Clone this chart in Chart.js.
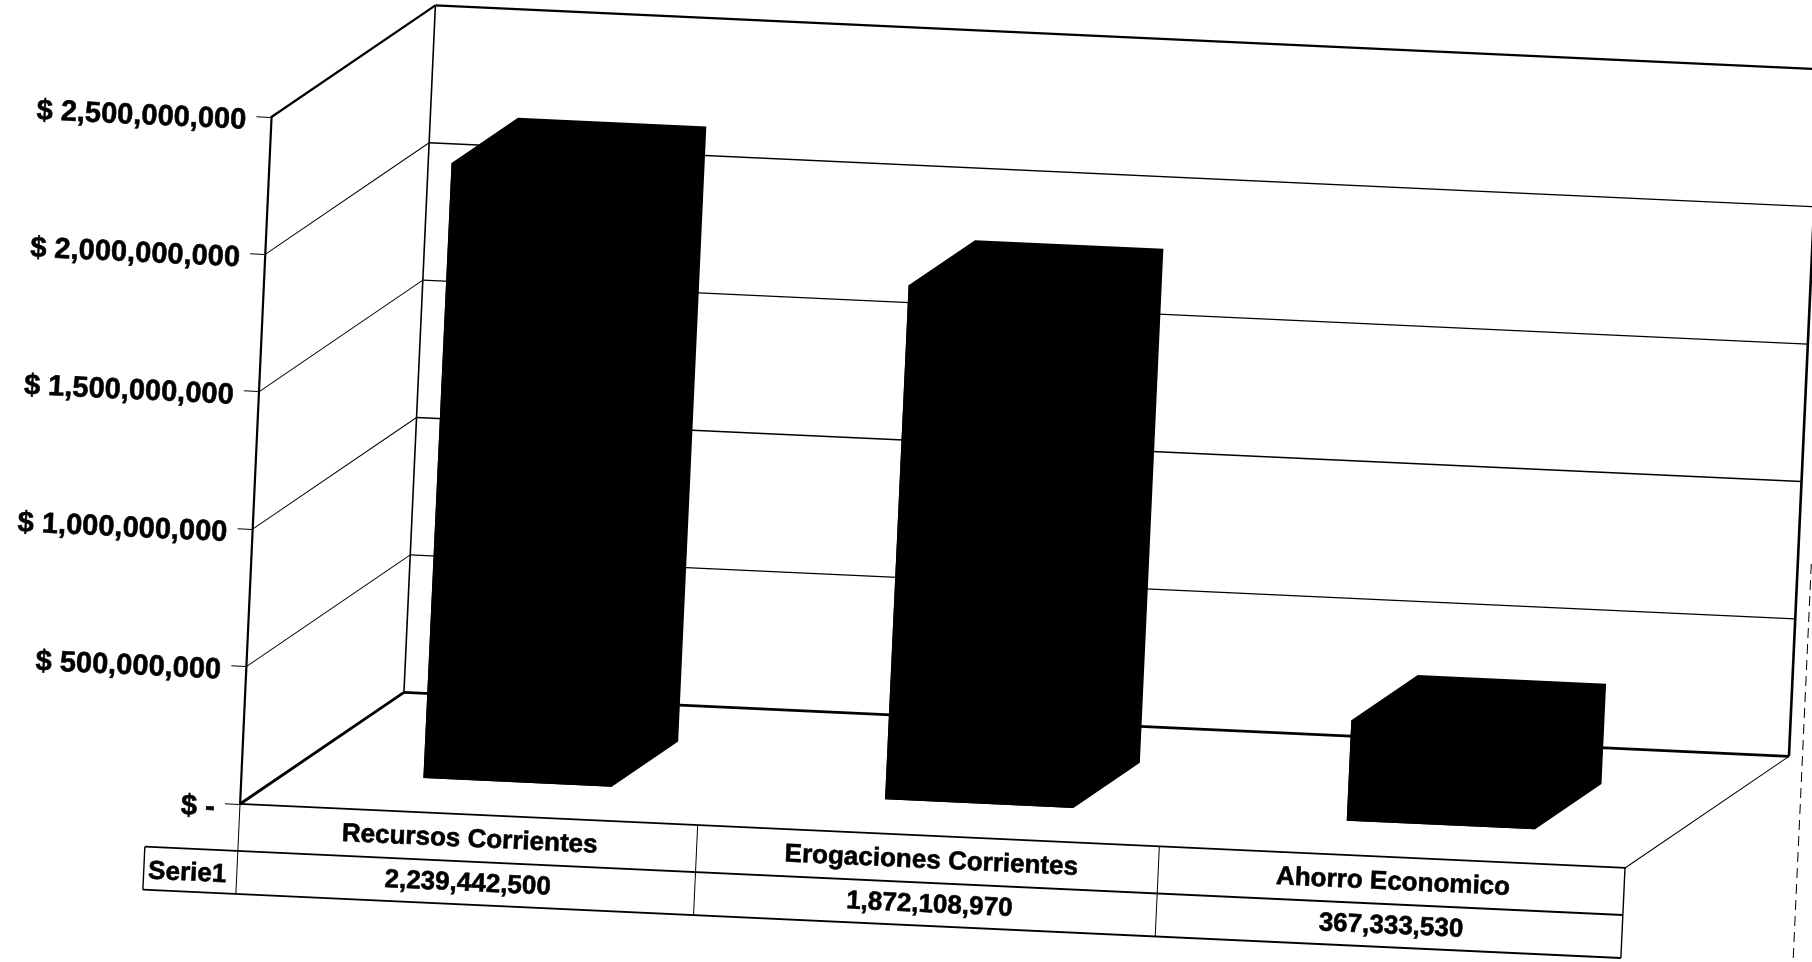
<!DOCTYPE html>
<html>
<head>
<meta charset="utf-8">
<script src="https://cdn.jsdelivr.net/npm/chart.js@4"></script>
<style>
html,body{margin:0;padding:0;background:#fff;overflow:hidden}
canvas{display:block}
</style>
</head>
<body>
<canvas id="c" width="1812" height="962"></canvas>
<script>
const categories = ["Recursos Corrientes", "Erogaciones Corrientes", "Ahorro Economico"];
const values = [2239442500, 1872108970, 367333530];
const seriesName = "Serie1";
const axisMax = 2500000000;
const axisStep = 500000000;

const fmt = v => Number(v).toLocaleString("en-US");
const FONT = '"Liberation Sans", Arial, sans-serif';

// The whole picture is an oblique view: a shear of the chart plane plus a depth vector
const shearX = -0.0458, shearY = 0.0462, ox = 240, oy = 804;
const depth = {u: 158.5, v: -119};
const barFront = 0.285, barBack = 0.69;

function line(ctx, x1, y1, x2, y2, w) {
  ctx.beginPath(); ctx.lineWidth = w; ctx.moveTo(x1, y1); ctx.lineTo(x2, y2); ctx.stroke();
}

const oblique = {
  id: "oblique",
  beforeDraw(chart) {
    const c = chart.ctx;
    c.save();
    c.transform(1, shearY, shearX, 1, -shearX * oy, -shearY * ox);
  },
  afterDraw(chart) {
    const c = chart.ctx, a = chart.chartArea, xs = chart.scales.x;
    // data table drawn below the plot, aligned with the category scale
    c.save();
    c.strokeStyle = "#000";
    const r1 = a.bottom + 47, r2 = a.bottom + 90, boxL = a.left - 93;
    line(c, boxL, r1, a.right, r1, 1.8);
    line(c, boxL, r2, a.right, r2, 1.8);
    line(c, boxL, r1, boxL, r2, 1.4);
    line(c, a.left, a.bottom, a.left, r2, 1);
    line(c, a.right, a.bottom, a.right, r2, 1.4);
    for (let i = 0; i < categories.length - 1; i++) {
      const m = (xs.getPixelForTick(i) + xs.getPixelForTick(i + 1)) / 2 - 4;
      line(c, m, a.bottom, m, r2, 1);
    }
    c.fillStyle = "#000";
    c.font = "bold 26px " + FONT;
    c.textAlign = "center"; c.textBaseline = "middle";
    c.lineWidth = 0.6; c.lineJoin = "round";
    const sx = (boxL + a.left) / 2 - 3, sy = (r1 + r2) / 2 + 3;
    c.fillText(chart.data.datasets[0].label, sx, sy);
    c.strokeText(chart.data.datasets[0].label, sx, sy);
    // page frame, dashed
    c.setLineDash([10, 6]);
    line(c, a.right + 172, a.bottom - 312, a.right + 172, a.bottom + 110, 1);
    c.restore();
    c.restore();
  },
  beforeDatasetsDraw(chart) {
    const c = chart.ctx, a = chart.chartArea, y = chart.scales.y;
    c.save();
    c.strokeStyle = "#000";
    const du = depth.u, dv = depth.v;
    y.ticks.forEach(t => {
      const p = y.getPixelForValue(t.value);
      const w = t.value === 0 ? 2.8 : (t.value === axisMax ? 2.2 : 1);
      line(c, a.left, p, a.left + du, p + dv, w);
      line(c, a.left + du, p + dv, a.right + du, p + dv, t.value === 0 ? 2.8 : (t.value === axisMax ? 2.2 : 1.4));
    });
    line(c, a.left + du, a.top + dv, a.left + du, a.bottom + dv, 1.6);
    line(c, a.right + du, a.top + dv, a.right + du, a.bottom + dv, 2.6);
    line(c, a.right, a.bottom, a.right + du, a.bottom + dv, 1);
    c.restore();
  },
  beforeDatasetDraw(chart, args) {
    const c = chart.ctx, meta = chart.getDatasetMeta(args.index);
    c.save();
    c.translate(depth.u * barFront, depth.v * barFront);
    const du = depth.u * (barBack - barFront), dv = depth.v * (barBack - barFront);
    c.fillStyle = "#000";
    meta.data.forEach(b => {
      const l = b.x - b.width / 2, r = b.x + b.width / 2;
      c.beginPath();
      c.moveTo(l, b.y); c.lineTo(l + du, b.y + dv); c.lineTo(r + du, b.y + dv);
      c.lineTo(r + du, b.base + dv); c.lineTo(r, b.base); c.lineTo(l, b.base);
      c.closePath(); c.fill();
    });
  },
  afterDatasetDraw(chart) { chart.ctx.restore(); }
};

new Chart(document.getElementById("c"), {
  type: "bar",
  plugins: [oblique],
  data: {
    labels: categories,
    datasets: [{
      label: seriesName, data: values, backgroundColor: "#000", borderWidth: 0,
      barPercentage: 1, categoryPercentage: 0.408, clip: false
    }]
  },
  options: {
    responsive: false, animation: false, devicePixelRatio: 1,
    layout: {padding: {left: 0, top: 117, right: 187, bottom: 0}},
    plugins: {legend: {display: false}, tooltip: {enabled: false}, title: {display: false}},
    scales: {
      x: {
        afterFit: s => { s.height = 158; },
        grid: {display: false, drawTicks: false},
        border: {display: true, color: "#000", width: 1.8},
        ticks: {
          autoSkip: false, maxRotation: 0, minRotation: 0, padding: 3, color: "#000",
          textStrokeColor: "#000", textStrokeWidth: 0.6,
          font: {family: FONT, weight: "bold", size: 26, lineHeight: 44 / 26},
          callback(v, i) { return [categories[i], fmt(values[i])]; }
        }
      },
      y: {
        min: 0, max: axisMax,
        afterFit: s => { s.width = 240; },
        grid: {drawOnChartArea: false, drawTicks: true, tickLength: 15, color: "#000", lineWidth: 1},
        border: {display: true, color: "#000", width: 2.2},
        ticks: {
          stepSize: axisStep, padding: 10, labelOffset: 5, color: "#000",
          textStrokeColor: "#000", textStrokeWidth: 0.6,
          font: {family: FONT, weight: "bold", size: 29},
          callback: v => v === 0 ? "$ -" : "$ " + fmt(v)
        }
      }
    }
  }
});
</script>
</body>
</html>
